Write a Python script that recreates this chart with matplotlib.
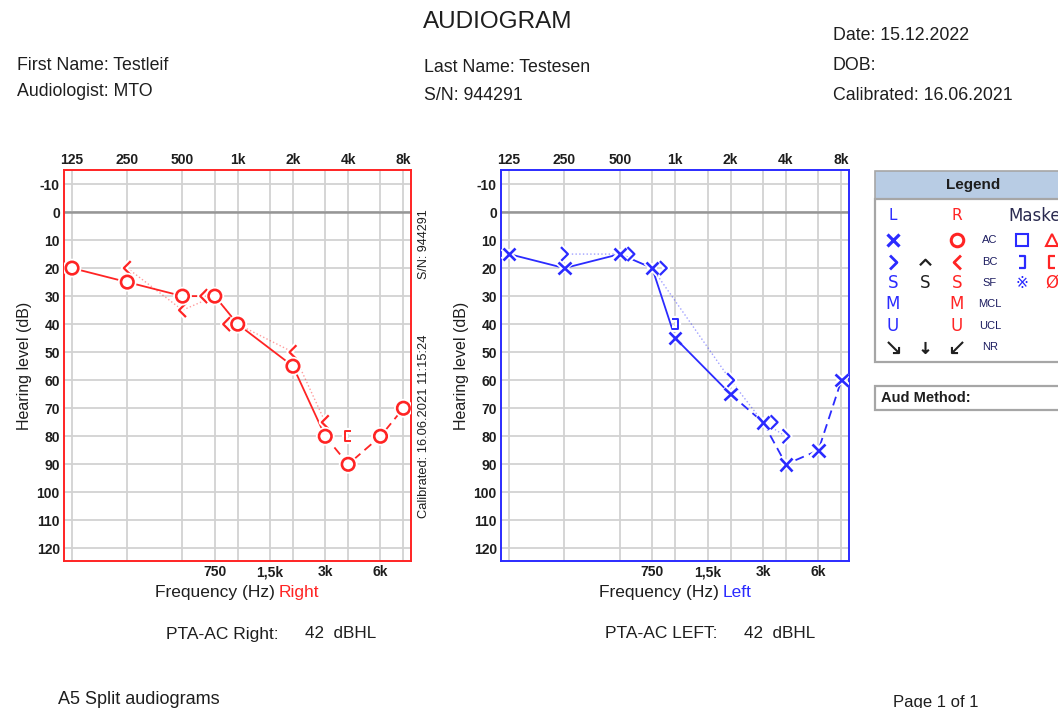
import matplotlib
matplotlib.use('Agg')
import matplotlib.pyplot as plt
import matplotlib.patheffects as pe
from matplotlib.path import Path
from matplotlib.patches import Rectangle
from matplotlib.transforms import offset_copy

plt.rcParams['font.family'] = ['Liberation Sans', 'DejaVu Sans']
plt.rcParams['axes.unicode_minus'] = False

# --- data ---
freq_top = [125, 250, 500, 1000, 2000, 4000, 8000]
freq_top_labels = ['125', '250', '500', '1k', '2k', '4k', '8k']
freq_mid = [750, 1500, 3000, 6000]
freq_mid_labels = ['750', '1,5k', '3k', '6k']
db_ticks = list(range(-10, 130, 10))

# right ear (red)
right_ac_freq = [125, 250, 500, 750, 1000, 2000, 3000, 4000, 6000, 8000]
right_ac_db = [20, 25, 30, 30, 40, 55, 80, 90, 80, 70]
right_bc_freq = [250, 500, 750, 1000, 2000, 3000]
right_bc_db = [20, 35, 30, 40, 50, 75]
right_mbc_freq = [4000]
right_mbc_db = [80]
right_dash_from = 3000

# left ear (blue)
left_ac_freq = [125, 250, 500, 750, 1000, 2000, 3000, 4000, 6000, 8000]
left_ac_db = [15, 20, 15, 20, 45, 65, 75, 90, 85, 60]
left_bc_freq = [250, 500, 750, 2000, 3000, 4000]
left_bc_db = [15, 15, 20, 60, 75, 80]
left_mbc_freq = [1000]
left_mbc_db = [40]
left_dash_from = 2000

pta_right = 42
pta_left = 42

RED = '#ff2424'
BLUE = '#2b2bff'
TXT = '#1e1e1e'

W, H = 1058, 708
fig = plt.figure(figsize=(W / 100, H / 100), dpi=100)
fig.patch.set_facecolor('white')


def fx(px):
    return px / W


def fy(py):
    return 1 - py / H


# marker shapes
bc_r_path = Path([(0.5, 1), (-0.5, 0), (0.5, -1)], [Path.MOVETO, Path.LINETO, Path.LINETO])   # <
bc_l_path = Path([(-0.5, 1), (0.5, 0), (-0.5, -1)], [Path.MOVETO, Path.LINETO, Path.LINETO])  # >
mbc_r_path = Path([(0.6, 1), (-0.6, 1), (-0.6, -1), (0.6, -1)],
                  [Path.MOVETO, Path.LINETO, Path.LINETO, Path.LINETO])   # [
mbc_l_path = Path([(-0.6, 1), (0.6, 1), (0.6, -1), (-0.6, -1)],
                  [Path.MOVETO, Path.LINETO, Path.LINETO, Path.LINETO])   # ]
halo = [pe.Stroke(linewidth=4.5, foreground='white'), pe.Normal()]


def draw_ear(ax, color, ac_f, ac_db, ac_marker, bc_f, bc_db, bc_path, mbc_f, mbc_db, mbc_path,
             dash_from, shift):
    ax.set_xscale('log', base=2)
    ax.set_xlim(113, 8800)
    ax.set_ylim(124.5, -15)
    ax.set_xticks(freq_top)
    ax.set_xticklabels(freq_top_labels)
    ax.set_xticks(freq_mid, minor=True)
    ax.set_xticklabels(freq_mid_labels, minor=True)
    ax.tick_params(axis='x', which='major', top=True, labeltop=True, bottom=False,
                   labelbottom=False, length=0, pad=2)
    ax.tick_params(axis='x', which='minor', top=False, labeltop=False, bottom=True,
                   labelbottom=True, length=0, pad=3)
    ax.set_yticks(db_ticks)
    ax.tick_params(axis='y', length=0, pad=3)
    for lab in ax.get_xticklabels(which='both') + ax.get_yticklabels():
        lab.set_fontsize(10)
        lab.set_fontweight('bold')
        lab.set_color(TXT)
    ax.grid(True, which='both', color='#d2d2d2', lw=1.3, zorder=0)
    ax.axhline(0, color='#969696', lw=1.8, zorder=0.6)
    ax.set_axisbelow(True)
    for s in ax.spines.values():
        s.set_color(color)
        s.set_linewidth(1.4)
    ax.set_ylabel('Hearing level (dB)', fontsize=11.5, color=TXT, labelpad=3)

    # bone conduction dotted link
    ax.plot(bc_f, bc_db, ls=':', color=color, lw=1.0, alpha=0.45, zorder=1.5)

    # air conduction line: solid then dashed
    k = ac_f.index(dash_from)
    ax.plot(ac_f[:k + 1], ac_db[:k + 1], '-', color=color, lw=1.3, zorder=2)
    ax.plot(ac_f[k:], ac_db[k:], color=color, lw=1.3, ls=(0, (5, 3)), zorder=2)

    # bone conduction markers, shifted sideways where they meet the AC symbol
    ac_map = dict(zip(ac_f, ac_db))
    same = [(f, d) for f, d in zip(bc_f, bc_db) if ac_map.get(f) == d]
    other = [(f, d) for f, d in zip(bc_f, bc_db) if ac_map.get(f) != d]
    tr = offset_copy(ax.transData, fig=fig, x=shift, y=0, units='points')
    for pts, trans in ((other, ax.transData), (same, tr)):
        if pts:
            ax.plot([p[0] for p in pts], [p[1] for p in pts], ls='none', marker=bc_path,
                    ms=10, mew=1.6, mec=color, mfc='none', transform=trans, zorder=3,
                    path_effects=halo)
    ax.plot(mbc_f, mbc_db, ls='none', marker=mbc_path, ms=7, mew=1.4, mec=color, mfc='none',
            zorder=3, path_effects=halo)
    ax.plot(ac_f, ac_db, ls='none', marker=ac_marker, ms=9, mew=1.9, mec=color, mfc='white',
            zorder=4, path_effects=halo)


ax_r = fig.add_axes([fx(64), fy(561), fx(411) - fx(64), fy(170) - fy(561)])
draw_ear(ax_r, RED, right_ac_freq, right_ac_db, 'o', right_bc_freq, right_bc_db, bc_r_path,
         right_mbc_freq, right_mbc_db, mbc_r_path, right_dash_from, -8)
ax_l = fig.add_axes([fx(501), fy(561), fx(849) - fx(501), fy(170) - fy(561)])
draw_ear(ax_l, BLUE, left_ac_freq, left_ac_db, 'x', left_bc_freq, left_bc_db, bc_l_path,
         left_mbc_freq, left_mbc_db, mbc_l_path, left_dash_from, 8)

# rotated info on the right audiogram
fig.text(fx(424), fy(244), 'S/N: 944291', rotation=90, ha='center', va='center',
         fontsize=9, color=TXT)
fig.text(fx(424), fy(426), 'Calibrated: 16.06.2021 11:15:24', rotation=90, ha='center',
         va='center', fontsize=9.3, color=TXT)

# frequency labels with coloured ear name
for x0, word, col in ((155, 'Right', RED), (599, 'Left', BLUE)):
    t1 = fig.text(fx(x0), fy(600), 'Frequency (Hz)', ha='left', va='bottom', fontsize=12.5,
                  color=TXT)
    plt.annotate(word, xy=(1, 0), xycoords=t1, xytext=(3, 0), textcoords='offset points',
                 ha='left', va='bottom', fontsize=12.5, color=col)

# header
fig.text(fx(498), fy(22), 'AUDIOGRAM', ha='center', va='center', fontsize=17.5, color=TXT)
hdr = [(17, 66, 'First Name: Testleif'), (17, 92, 'Audiologist: MTO'),
       (424, 67, 'Last Name: Testesen'), (424, 95, 'S/N: 944291'),
       (833, 35, 'Date: 15.12.2022'), (833, 65, 'DOB:'), (833, 95, 'Calibrated: 16.06.2021')]
for x0, y0, s in hdr:
    fig.text(fx(x0), fy(y0), s, ha='left', va='center', fontsize=12.8, color=TXT)

# PTA and footer
fig.text(fx(166), fy(634), 'PTA-AC Right:', ha='left', va='center', fontsize=12.5, color=TXT)
fig.text(fx(305), fy(634), f'{pta_right}  dBHL', ha='left', va='center', fontsize=12.3, color=TXT)
fig.text(fx(605), fy(634), 'PTA-AC LEFT:', ha='left', va='center', fontsize=12.5, color=TXT)
fig.text(fx(744), fy(634), f'{pta_left}  dBHL', ha='left', va='center', fontsize=12.3, color=TXT)
fig.text(fx(58), fy(700), 'A5 Split audiograms', ha='left', va='center', fontsize=13, color=TXT)
fig.text(fx(893), fy(703), 'Page 1 of 1', ha='left', va='center', fontsize=12, color=TXT)

# legend panel (pixel coordinates)
lg = fig.add_axes([fx(873), fy(414), 1 - fx(873), fy(168) - fy(414)])
lg.set_xlim(873, W)
lg.set_ylim(414, 168)
lg.axis('off')
lg.add_patch(Rectangle((875, 171), 220, 28, fc='#b8cce4', ec='#a6a6a6', lw=1.2))
lg.add_patch(Rectangle((875, 199), 220, 163, fc='white', ec='#a6a6a6', lw=1.6))
lg.add_patch(Rectangle((875, 386), 220, 24, fc='white', ec='#a6a6a6', lw=1.6))
lg.text(973, 185, 'Legend', ha='center', va='center', fontsize=11, fontweight='bold', color=TXT)
lg.text(881, 398, 'Aud Method:', ha='left', va='center', fontsize=10.5, fontweight='bold',
        color=TXT)

cols = [893, 925, 957, 990, 1022, 1052]
rows = [216, 240, 262, 283, 304, 326, 347]
NAVY = '#1c1c60'
DARK = '#202020'


def glyph(c, r, s, color, size=11.5, weight='normal', family='DejaVu Sans'):
    lg.text(cols[c], rows[r], s, ha='center', va='center', fontsize=size, color=color,
            fontweight=weight, family=family)


def mark(c, r, m, color, ms=9, mew=2):
    lg.plot([cols[c]], [rows[r]], ls='none', marker=m, ms=ms, mew=mew, mec=color, mfc='none')


glyph(0, 0, 'L', BLUE, 11)
glyph(2, 0, 'R', RED, 11)
lg.text(1008, rows[0], 'Masked', ha='left', va='center', fontsize=12, color='#2a2a50',
        family='DejaVu Sans')
for r, s in zip(range(1, 7), ['AC', 'BC', 'SF', 'MCL', 'UCL', 'NR']):
    glyph(3, r, s, NAVY, 8, family='Liberation Sans')
mark(0, 1, 'x', BLUE, 8, 2.3)
mark(2, 1, 'o', RED, 9, 2.2)
mark(4, 1, 's', BLUE, 9, 1.5)
mark(5, 1, '^', RED, 9, 1.5)
mark(0, 2, bc_l_path, BLUE, 10, 2)
chev = Path([(-1, -0.5), (0, 0.5), (1, -0.5)], [Path.MOVETO, Path.LINETO, Path.LINETO])
mark(1, 2, chev, DARK, 8, 1.6)
mark(2, 2, bc_r_path, RED, 10, 2)
mark(4, 2, mbc_l_path, BLUE, 8, 1.6)
mark(5, 2, mbc_r_path, RED, 8, 1.6)
glyph(0, 3, 'S', BLUE, 12)
glyph(1, 3, 'S', DARK, 12)
glyph(2, 3, 'S', RED, 12)
glyph(4, 3, '\u203b', BLUE, 11)
glyph(5, 3, '\u00d8', RED, 12)
glyph(0, 4, 'M', BLUE, 12)
glyph(2, 4, 'M', RED, 12)
glyph(0, 5, 'U', BLUE, 12)
glyph(2, 5, 'U', RED, 12)
nr_l = Path([(-1, 1), (1, -1), (1, 0.1), (1, -1), (-0.1, -1)],
            [Path.MOVETO, Path.LINETO, Path.MOVETO, Path.LINETO, Path.LINETO])
nr_d = Path([(0, 1), (0, -1), (-0.6, -0.4), (0, -1), (0.6, -0.4)],
            [Path.MOVETO, Path.LINETO, Path.MOVETO, Path.LINETO, Path.LINETO])
nr_r = Path([(1, 1), (-1, -1), (-1, 0.1), (-1, -1), (0.1, -1)],
            [Path.MOVETO, Path.LINETO, Path.MOVETO, Path.LINETO, Path.LINETO])
mark(0, 6, nr_l, DARK, 8, 1.5)
mark(1, 6, nr_d, DARK, 8, 1.5)
mark(2, 6, nr_r, DARK, 8, 1.5)

fig.savefig('out.png', dpi=100, facecolor='white')
